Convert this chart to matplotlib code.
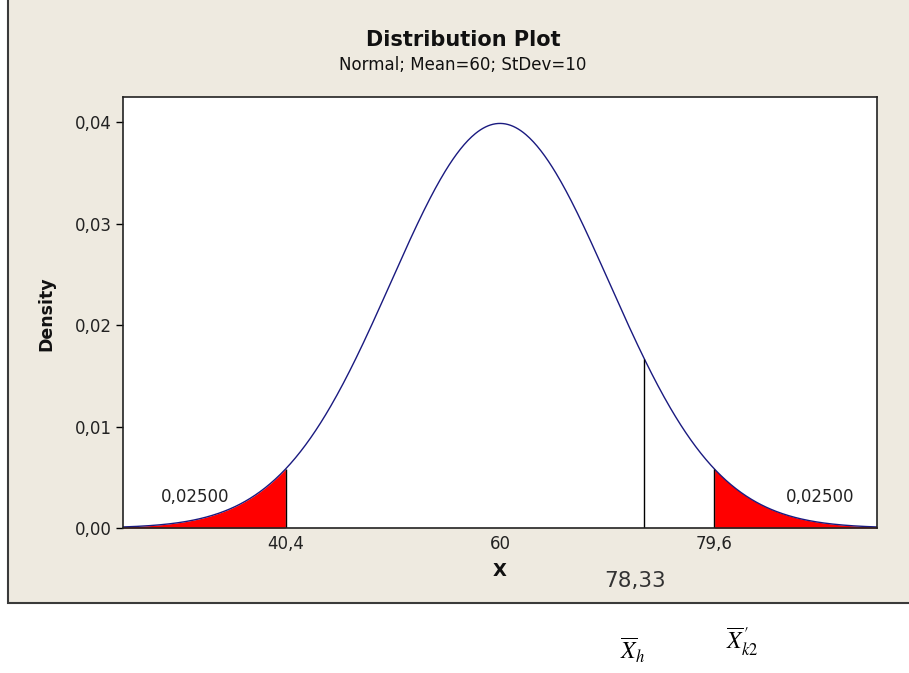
import numpy as np
import matplotlib
matplotlib.use("Agg")
import matplotlib.pyplot as plt
from matplotlib.patches import Rectangle

# distribution parameters (from the subtitle)
mean = 60
stdev = 10
# critical values and tail areas
lower_crit = 40.4
upper_crit = 79.6
tail_area = "0,02500"
# extra marker line drawn on the curve and its label
marker_x = 73.2
marker_label = "78,33"
x_ticks = [40.4, 60, 79.6]
x_tick_labels = ["40,4", "60", "79,6"]
y_ticks = [0.00, 0.01, 0.02, 0.03, 0.04]
y_tick_labels = ["0,00", "0,01", "0,02", "0,03", "0,04"]

W, H = 909, 673
fig = plt.figure(figsize=(W / 100, H / 100), dpi=100)
fig.patch.set_facecolor("white")


def fx(x):
    return x / W


def fy(y):
    return 1 - y / H


# beige Minitab panel
panel = Rectangle((fx(8), fy(603)), 1.0, fy(0) - fy(603) + 0.01, transform=fig.transFigure,
                  facecolor="#eeeae0", edgecolor="#3a3a3a", linewidth=1.5, zorder=-5)
fig.patches.append(panel)

ax = fig.add_axes([fx(123), fy(528), fx(877) - fx(123), fy(97) - fy(528)])
ax.set_zorder(2)
ax.set_facecolor("white")

xlo, xhi = 25.5, 94.5
xs = np.linspace(xlo, xhi, 600)
pdf = np.exp(-0.5 * ((xs - mean) / stdev) ** 2) / (stdev * np.sqrt(2 * np.pi))


def dens(v):
    return np.exp(-0.5 * ((v - mean) / stdev) ** 2) / (stdev * np.sqrt(2 * np.pi))


ax.fill_between(xs, 0, pdf, where=xs <= lower_crit, color="red", linewidth=0)
ax.fill_between(xs, 0, pdf, where=xs >= upper_crit, color="red", linewidth=0)
ax.plot(xs, pdf, color="#1a1a80", linewidth=1.0)
ax.vlines([lower_crit, upper_crit, marker_x], 0,
          [dens(lower_crit), dens(upper_crit), dens(marker_x)], color="black", linewidth=1.0)

ax.set_xlim(xlo, xhi)
ax.set_ylim(0, 0.0425)

font = dict(family="DejaVu Sans")

ax.set_xticks(x_ticks)
ax.set_xticklabels(x_tick_labels, fontsize=12, color="#222222", **font)
ax.tick_params(axis="x", length=0, pad=5)
ax.set_yticks(y_ticks)
ax.set_yticklabels(y_tick_labels, fontsize=12, color="#222222", **font)
ax.tick_params(axis="y", length=5, width=1, pad=3)
for s in ax.spines.values():
    s.set_linewidth(1.2)
    s.set_color("#222222")

ax.text(0.096, 0.071, tail_area, transform=ax.transAxes, ha="center", va="center",
        fontsize=12, color="#222222", **font)
ax.text(0.925, 0.071, tail_area, transform=ax.transAxes, ha="center", va="center",
        fontsize=12, color="#222222", **font)

fig.text(fx(463), fy(40), "Distribution Plot", ha="center", va="center",
         fontsize=15, fontweight="bold", color="#111111", **font)
fig.text(fx(463), fy(65), "Normal; Mean=60; StDev=10", ha="center", va="center",
         fontsize=12, color="#111111", **font)
fig.text(fx(46), fy(314), "Density", ha="center", va="center", rotation=90,
         fontsize=12.5, fontweight="bold", color="#111111", **font)
fig.text(fx(500), fy(571), "X", ha="center", va="center",
         fontsize=13, fontweight="bold", color="#111111", **font)
fig.text(fx(635), fy(581), marker_label, ha="center", va="center",
         fontsize=15.5, color="#333333", **font)

# hand-added symbols under the panel
plt.rcParams["mathtext.fontset"] = "stix"
fig.text(fx(633), fy(650), r"$\overline{X}_h$", ha="center", va="center", fontsize=17)
fig.text(fx(742), fy(642), r"$\overline{X}^{\,\prime}_{k2}$", ha="center", va="center", fontsize=17)

fig.savefig("out.png", dpi=100)
